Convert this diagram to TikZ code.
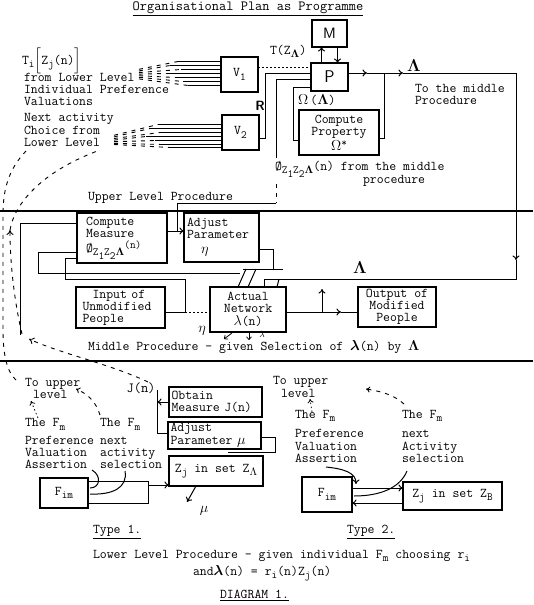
\documentclass[tikz,border=0pt]{standalone}
\usepackage{amsmath}
\usetikzlibrary{arrows.meta,calc}
\newcommand\lowr[1]{\raisebox{-3.5pt}{\fontsize{11}{11}\selectfont #1}}
\newcommand\highr[1]{\raisebox{4pt}{\fontsize{11}{11}\selectfont #1}}
\newcommand\BL{$\mathbf{\Lambda}$}
\begin{document}
\begin{tikzpicture}[x=1pt,y=-1pt,
 every node/.style={font=\ttfamily\fontsize{13.4}{12}\selectfont, inner sep=0pt, outer sep=0pt},
 box/.style={draw, line width=1.3pt, align=center},
 ln/.style={line width=1pt},
 arr/.style={line width=1pt, -{To[length=4.5pt,width=7pt]}},
 sarr/.style={line width=0.8pt, -{To[length=3.5pt,width=5.5pt]}},
 dsh/.style={line width=0.9pt, dash pattern=on 4pt off 5pt},
 dotl/.style={line width=0.8pt, dash pattern=on 1.5pt off 2.5pt},
 hatch/.style={line width=0.8pt},
 tl/.style={anchor=base west},
]
\useasboundingbox (0,0) rectangle (533,605);

% ---------- boxes ----------
\node[box,minimum width=37pt,minimum height=35pt] (V1) at (239.5,74.5) {V\lowr{1}};
\node[box,minimum width=37pt,minimum height=35pt] (V2) at (240.5,132.5) {V\lowr{2}};
\node[box,minimum width=35pt,minimum height=27pt] (M) at (329.5,33.5) {\sffamily\fontsize{15}{15}\selectfont M};
\node[box,minimum width=37pt,minimum height=28pt] (P) at (329.5,77) {\sffamily\fontsize{17}{17}\selectfont P};
\node[box,minimum width=80pt,minimum height=45pt] (CP) at (339,132.5) {Compute\\Property\\[1pt]$\Omega$\highr{*}};
\node[box,minimum width=90pt,minimum height=50pt,align=left,text width=72pt] (CM) at (122,238) {Compute\\Measure\\[3pt]Ø\lowr{Z\lowr{1}Z\lowr{2}$\mathbf{\Lambda}$}\highr{(n)}};
\node[box,minimum width=75pt,minimum height=49pt,align=left,text width=69pt] (AP) at (221.5,237.5) {Adjust\\Parameter\\[3pt]\hspace*{14pt}$\eta$};
\node[box,minimum width=89pt,minimum height=41pt,align=left,text width=76pt] (IN) at (120.5,307.5) {\hspace*{10pt}Input of\\Unmodified\\People};
\node[box,minimum width=76pt,minimum height=45pt] (AN) at (248,309.5) {Actual\\Network\\[1.5pt]$\lambda$(n)};
\node[box,minimum width=78pt,minimum height=40pt] (OUT) at (397,307) {Output of\\Modified\\People};
\node[box,minimum width=93pt,minimum height=30pt,align=left,text width=88pt] (OM) at (215.5,402) {Obtain\\Measure J(n)};
\node[box,minimum width=93pt,minimum height=27pt,align=left,text width=88pt] (APm) at (214.5,435.5) {Adjust\\[1pt]Parameter $\mu$};
\node[box,minimum width=94pt,minimum height=30pt] (ZA) at (216,471) {\raisebox{5pt}{Z\lowr{j} in set Z\lowr{$\Lambda$}}};
\node[box,minimum width=48pt,minimum height=30pt] (F1) at (64,493) {F\lowr{im}};
\node[box,minimum width=50pt,minimum height=35pt] (F2) at (327,494.5) {F\lowr{im}};
\node[box,minimum width=99pt,minimum height=28pt] (ZB) at (452.5,496) {Z\lowr{j} in set Z\lowr{B}};

% ---------- section lines ----------
\draw[line width=1.2pt] (0,211) -- (533,211);
\draw[line width=1.2pt] (0,361) -- (533,361);

% ---------- texts ----------
\node[anchor=base] (title) at (248,10.5) {\fontsize{14}{14}\selectfont\underline{Organisational Plan as Programme}};
\node[tl] (t0) at (22,64) {T\lowr{i}$\Big[$Z\lowr{j}(n)$\Big]$};
\node[tl] (t1) at (24,81) {from Lower Level};
\node[tl] (t2) at (24,93.5) {Individual Preference};
\node[tl] (t3) at (24,105.5) {Valuations};
\node[tl] (t4) at (24,121.5) {Next activity};
\node[tl] (t5) at (24,134.5) {Choice from};
\node[tl] (t6) at (24,146.5) {Lower Level};
\node (R) at (260,106) {\sffamily\bfseries R};
\node[tl] (tz) at (270,54) {T(Z\lowr{$\mathbf{\Lambda}$})};
\node[tl] (om) at (298,104) {$\Omega$\,(\BL)};
\node[anchor=south] (lamtop) at (414,71) {\fontsize{16}{16}\selectfont\BL};
\node[tl] (tm1) at (415,92.5) {To the middle};
\node[tl] (tm2) at (415,104.5) {Procedure};
\node[tl] (ph1) at (275,170) {Ø\lowr{Z\lowr{1}Z\lowr{2}$\mathbf{\Lambda}$}(n) from the middle};
\node[tl] (ph2) at (363,183) {procedure};
\node[tl] (ulp) at (88,200) {Upper Level Procedure};
\node[tl] (mlp) at (88,350) {Middle Procedure - given Selection of $\boldsymbol{\lambda}$(n) by \BL};
\node (lammid) at (360,268) {\fontsize{16}{16}\selectfont\BL};
\node (eta2) at (202,331) {$\eta$};
\node (lam2) at (262,334.5) {\fontsize{9}{9}\selectfont$\lambda$};
\node (Jn) at (141,388) {\fontsize{14}{14}\selectfont J(n)};
\node (mu1) at (204,511) {$\mu$};
% type 1 texts
\node[tl] (a1) at (25,386) {To upper};
\node[tl] (a2) at (33,398.5) {level};
\node[tl] (a3) at (25,426.5) {The F\lowr{m}};
\node[tl] (a4) at (25,444.5) {Preference};
\node[tl] (a5) at (25,456.5) {Valuation};
\node[tl] (a6) at (25,468.5) {Assertion};
\node[tl] (b3) at (100,426.5) {The F\lowr{m}};
\node[tl] (b4) at (100,444.5) {next};
\node[tl] (b5) at (100,456.5) {activity};
\node[tl] (b6) at (100,468.5) {selection};
% type 2 texts
\node[tl] (c1) at (273,384.5) {To upper};
\node[tl] (c2) at (281,397) {level};
\node[tl] (c3) at (295,418) {The F\lowr{m}};
\node[tl] (c4) at (295,437.5) {Preference};
\node[tl] (c5) at (295,450) {Valuation};
\node[tl] (c6) at (295,462.5) {Assertion};
\node[tl] (d3) at (402,418) {The F\lowr{m}};
\node[tl] (d4) at (402,437.5) {next};
\node[tl] (d5) at (402,450) {Activity};
\node[tl] (d6) at (402,462.5) {selection};
% bottom texts
\node[tl] (ty1) at (93,533) {\underline{Type 1.}};
\node[tl] (ty2) at (347,533) {\underline{Type 2.}};
\node[tl] (llp) at (93,558) {Lower Level Procedure - given individual F\lowr{m} choosing r\lowr{i}};
\node[tl] (eq) at (193,575) {and$\boldsymbol{\lambda}$(n) = r\lowr{i}(n)Z\lowr{j}(n)};
\node[tl] (dg) at (220,598) {\underline{DIAGRAM 1.}};

% ---------- hatch lines into V1 / V2 ----------
\foreach \d/\s in {-13/178,-9/170,-5/181,-1/166,3/175,7/183,11/188} {
  \draw[hatch] ($(V1.west)+(\s-221,\d)$) -- ($(V1.west)+(0,\d)$);
  \draw[dsh] ($(V1.west)+(-82,\d*0.4)$) -- ($(V1.west)+(\s-221,\d)$);
}
\foreach \d/\s in {-8/158,-4/150,0/160,4/146,8/155,12/162,15/170} {
  \draw[hatch] ($(V2.west)+(\s-222,\d)$) -- ($(V2.west)+(0,\d)$);
  \draw[dsh] ($(V2.west)+(-108,\d*0.4+6)$) -- ($(V2.west)+(\s-222,\d)$);
}

% ---------- upper level connectors ----------
\coordinate (v1o) at ($(V1.east)+(0,-7.5)$);
\draw[dotl] (v1o) -- (v1o -| P.west);
\coordinate (v2o) at ($(V2.east)+(0,5.5)$);
\coordinate (p73) at ($(P.west)+(0,-4)$);
\draw[ln] (v2o) -- ++(6,0) |- (p73);
\coordinate (p79) at ($(P.west)+(0,2)$);
\coordinate (phitop) at (276,158);
\draw[ln] (phitop) |- (p79);
\coordinate (p87) at ($(P.west)+(0,10)$);
\coordinate (cpi) at ($(CP.west)+(0,7.5)$);
\draw[ln] (p87) -- ++(-18,0) |- (cpi);
\draw[arr] ($(P.north)+(-8,0)$) -- ($(M.south)+(-8,0)$);
\draw[arr] ($(M.south)+(8,0)$) -- ($(P.north)+(8,0)$);
\coordinate (pout) at ($(P.east)+(0,-4)$);
\coordinate (j1) at (384,73);
\coordinate (rc) at (516,73);
\draw[arr] (pout) -- (367,73);
\draw[ln] (367,73) -- (j1);
\draw[arr] (j1) -- (403,73);
\draw[ln] (403,73) -- (rc);
\coordinate (cpo) at ($(CP.east)+(0,5.5)$);
\draw[ln] (cpo) -| (j1);
\coordinate (rd) at (516,260);
\draw[arr] (rc) -- (rd);
\coordinate (lamL) at (264,279);
\draw[ln] (rd) |- (lamL) -- (lamL |- AN.north);
\draw[ln] (279,279) -- ++(-2,8);

% ---------- middle connectors ----------
\coordinate (cmo) at ($(CM.east)+(0,-7)$);
\draw[arr] (cmo) -- (cmo -| AP.west);
\coordinate (phib) at (276,203);
\coordinate (cmap) at (177,231);
\draw[dsh] (276,184) -- (phib);
\draw[ln] (phib) -| (cmap);
\coordinate (cml) at ($(CM.west)+(0,-15)$);
\coordinate (lv) at (20,335);
\draw[ln] (cml) -| (lv);
\coordinate (cml2) at ($(CM.west)+(0,14)$);
\draw[ln] (cml2) -- (38,252) |- (240,273);
\coordinate (cml3) at ($(CM.west)+(0,20)$);
\coordinate (br) at (185,312);
\draw[ln] (cml3) -- (65,258) |- (185,279) -- (br);
\coordinate (ino) at ($(IN.east)+(0,4.5)$);
\draw[ln] (ino) -- (br);
\draw[dotl] (br) -- (ino -| AN.west);
\coordinate (ano) at ($(AN.east)+(0,2.5)$);
\coordinate (up1) at (322,312);
\draw[ln] (ano) -- (up1);
\draw[arr] (up1) -- (341,312);
\draw[ln] (341,312) -- (ano -| OUT.west);
\draw[arr] (up1) -- (322,289);
\coordinate (apo) at ($(AP.east)+(0,12)$);
\draw[ln] (apo) -| (273,269);
\draw[ln] (243,269) -- (283,269);
\draw[ln] (246,269) -- (238,287);
\draw[ln] (256,269) -- (248,287);
\draw[sarr] (232,333) -- (224,339);
\draw[sarr] (249,331) -- (249,340);

% ---------- long dashed feedback curves ----------
% J(n) back to Compute Measure
\draw[dsh,-{To[length=5pt,width=7pt]}] (148,382) .. controls (110,364) and (62,354) .. (29,339);
% outer curve: lower "To upper level" up to the top texts
\draw[dsh] (16,380) .. controls (7,372) and (3,355) .. (3,330) -- (3,215) .. controls (3,190) and (8,170) .. (26,151);
% inner curve with upward arrow
\draw[dsh,-{To[length=5pt,width=7pt]}] (22,334) .. controls (14,300) and (10,262) .. (10,230);
\draw[dsh] (10,230) .. controls (14,205) and (40,172) .. (100,150);

% ---------- lower level: type 1 ----------
\draw[arr] (OM.west) -- (157,402);
\draw[ln] (157,390) |- ($(APm.west)+(0,-2.5)$);
\draw[ln] ($(APm.east)+(0,1.5)$) -- ++(14,0) |- (228,452);
\draw[arr] ($(ZA.south)+(-20,0)$) -- ++(-9,16);
\coordinate (f1a) at ($(F1.east)+(0,-12)$);
\coordinate (f1b) at ($(F1.east)+(0,10)$);
\coordinate (m1) at (148,481);
\draw[ln] (f1a) -- (m1);
\draw[ln] (f1b) -| (m1);
\draw[arr] (148,485) -- ($(ZA.west)+(0,14)$);
\draw[ln] (92,470) .. controls (102,476) and (100,488) .. (90,488);
\draw[ln] (125,471) .. controls (128,488) and (112,495) .. (90,494);
\draw[dotl,-{To[length=4pt,width=6pt]}] (38,418) -- (31,401);
\draw[dsh,-{To[length=4pt,width=6pt]}] (100,415) .. controls (96,402) and (88,394) .. (76,389);

% ---------- lower level: type 2 ----------
\coordinate (f2a) at ($(F2.east)+(0,-6.5)$);
\draw[arr] (f2a) -- (f2a -| ZB.west);
\coordinate (zbo) at ($(ZB.west)+(0,7)$);
\draw[arr] (zbo) -- (zbo -| F2.east);
\draw[arr] (326,467) .. controls (345,469) and (356,473) .. (356,484);
\draw[ln] (407,471) .. controls (400,488) and (380,496) .. (354,496);
\draw[dotl,-{To[length=4pt,width=6pt]}] (312,412) -- (310,399);
\draw[dsh,-{To[length=4pt,width=6pt]}] (404,404) .. controls (395,396) and (385,392) .. (366,389);
\end{tikzpicture}
\end{document}
